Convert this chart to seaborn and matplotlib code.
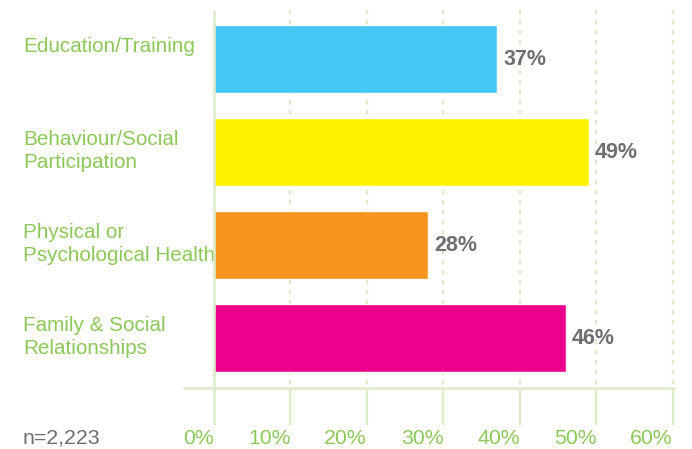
import matplotlib
matplotlib.use('Agg')
import matplotlib.pyplot as plt
import matplotlib.transforms as mtransforms
import seaborn as sns

categories = ['Education/Training', 'Behaviour/Social\nParticipation',
              'Physical or\nPsychological Health', 'Family & Social\nRelationships']
values = [37, 49, 28, 46]
bar_colors = ['#45c8f5', '#fff200', '#f7941d', '#ec008c']
xticks = [0, 10, 20, 30, 40, 50, 60]
sample_note = 'n=2,223'

GREEN = '#8cc85a'
GRID = '#dcebc8'
GRAY = '#6d6e71'

sns.set_style('white')
plt.rcParams['font.family'] = ['Liberation Sans', 'DejaVu Sans']

fig = plt.figure(figsize=(6.92, 4.49), dpi=100)
ax = fig.add_axes([183 / 692, 1 - 425 / 449, (676 - 183) / 692, (425 - 10) / 449])

sns.barplot(x=values, y=categories, hue=categories, palette=bar_colors,
            orient='h', width=0.73, legend=False, saturation=1, ax=ax, zorder=3)

ax.set_xlim(-4.05, 60.4)
ax.set_ylim(3.935, -0.527)
axis_y = 3.54

# grid: dashed above the axis line, solid tick stubs below it
for t in xticks[1:]:
    ax.vlines(t, -0.527, axis_y, colors=GRID, lw=1.6, linestyles=(0, (2, 2.5)), zorder=1)
    ax.vlines(t, axis_y, 3.935, colors=GRID, lw=1.6, zorder=1)
ax.vlines(0, -0.527, 3.935, colors=GRID, lw=1.8, zorder=4)
ax.hlines(axis_y, -4.05, 60.4, colors=GRID, lw=1.8, zorder=1)

for spine in ax.spines.values():
    spine.set_visible(False)
ax.set_xticks([])
ax.set_yticks([])
ax.set_xlabel('')
ax.set_ylabel('')

# value labels
for i, v in enumerate(values):
    ax.text(v + 0.8, i, f'{v}%', ha='left', va='center', fontsize=15.5,
            fontweight='bold', color=GRAY)

# category labels on the left
trans = mtransforms.blended_transform_factory(fig.transFigure, ax.transData)
for i, c in enumerate(categories):
    ax.text(23 / 692, i - 0.24, c, transform=trans, ha='left', va='top',
            fontsize=14.9, color=GREEN, linespacing=1.28)

# x tick labels, right-aligned on the tick
tick_trans = mtransforms.blended_transform_factory(ax.transData, fig.transFigure)
for t in xticks:
    ax.text(t, 1 - 438 / 449, f'{t}%', transform=tick_trans,
            ha='right', va='center', fontsize=15.3, color=GREEN)

fig.text(23 / 692, 1 - 438 / 449, sample_note, ha='left', va='center',
         fontsize=15.3, color=GRAY)

fig.savefig('out.png', dpi=100)
